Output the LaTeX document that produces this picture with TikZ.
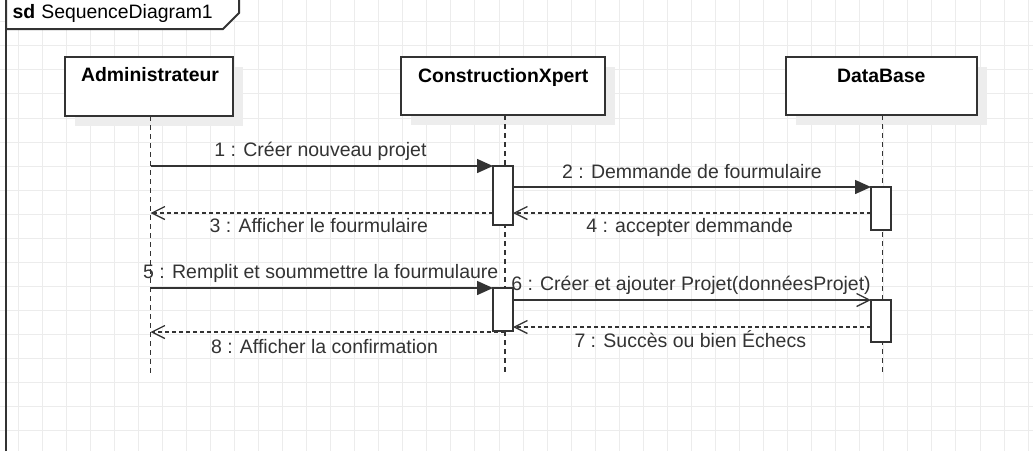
\documentclass[tikz,border=0pt]{standalone}
\usepackage{fontspec}
\setmainfont{Liberation Sans}
\usetikzlibrary{arrows.meta}
\definecolor{ln}{HTML}{333333}
\definecolor{gridc}{HTML}{ECECEC}
\definecolor{shadowc}{HTML}{EDEDED}
\tikzset{
  gridline/.style={draw=gridc, line width=1pt},
  framel/.style={draw=ln, line width=2pt},
  lifebox/.style={draw=ln, fill=white, line width=1.8pt, minimum width=#1, minimum height=58pt, inner sep=0pt, outer sep=0pt},
  shadowbox/.style={fill=shadowc, draw=none},
  boxtitle/.style={anchor=base, inner sep=0pt, font=\fontsize{19.4}{23}\selectfont\bfseries, text=black},
  lifeline/.style={draw=ln, line width=1.4pt, dash pattern=on 5pt off 4pt},
  activation/.style={draw=ln, fill=white, line width=1.6pt, minimum width=20pt, minimum height=#1, inner sep=0pt, outer sep=0pt},
  call/.style={draw=ln, line width=1.5pt, -{Triangle[length=16pt,width=14pt]}},
  async/.style={draw=ln, line width=1.5pt, -{Straight Barb[length=13pt,width=13pt,line width=1.3pt]}},
  reply/.style={draw=ln, line width=1.3pt, dash pattern=on 4pt off 3pt, -{Straight Barb[length=13pt,width=13pt,line width=1.3pt]}},
  msg/.style={anchor=base, inner sep=0pt, font=\fontsize{19.5}{23}\selectfont, text=ln},
}
\begin{document}
\begin{tikzpicture}[x=1pt,y=-1pt]
\useasboundingbox (0,0) rectangle (1033,451);
\fill[white] (0,0) rectangle (1033,451);
% grid
\foreach \k in {0,...,42} \draw[gridline] ({18+24.05*\k},0) -- ({18+24.05*\k},451);
\foreach \k in {0,...,17} \draw[gridline] (0,{21.9+24.03*\k}) -- (1033,{21.9+24.03*\k});
% frame
\draw[framel] (6,451) -- (6,-2);
\draw[framel, fill=white] (6,-2) -- (239,-2) -- (239,13) -- (223,29) -- (6,29) -- cycle;
\node[anchor=base west, inner sep=0pt, font=\fontsize{19.4}{23}\selectfont, text=black] (title) at (12.5,18.5) {\textbf{sd}\hspace{6pt}SequenceDiagram1};
% shadows
\fill[shadowbox] (75,67) rectangle (243,126);
\fill[shadowbox] (411,67) rectangle (615,125);
\fill[shadowbox] (796,67) rectangle (987,125);
% lifeline heads
\node[lifebox=168pt, minimum height=59pt, anchor=north west] (admin) at (65,57) {};
\node[lifebox=204pt, anchor=north west] (cx) at (401,57) {};
\node[lifebox=191pt, anchor=north west] (db) at (786,57) {};
\node[boxtitle] (admint) at (150,81.7) {Administrateur};
\node[boxtitle] (cxt) at (503.3,82.3) {ConstructionXpert};
\node[boxtitle] (dbt) at (881.3,82.3) {DataBase};
% lifelines
\coordinate (aend) at (150.5,375);
\coordinate (cend) at (505,375);
\coordinate (dend) at (882.5,375);
\draw[lifeline] (admin.south -| aend) -- (aend);
\draw[lifeline] (cx.south -| cend) -- (cend);
\draw[lifeline] (db.south -| dend) -- (dend);
% activations
\node[activation=59pt] (c1) at (503,195.5) {};
\node[activation=43pt] (d1) at (881,208.5) {};
\node[activation=43pt] (c2) at (503,309.5) {};
\node[activation=42pt] (d2) at (881,321) {};
% message points on lifelines
\coordinate (a1) at (150.5,166);
\coordinate (a3) at (150.5,213);
\coordinate (a5) at (150.5,288);
\coordinate (a8) at (150.5,332);
\coordinate (c8) at (505,332);
\coordinate (y7) at (0,327);
% messages
\draw[call] (a1) -- (c1.north west);
\draw[call] (c1.east |- d1.north) -- (d1.north west);
\draw[reply] (c1.west |- a3) -- (a3);
\draw[reply] (d1.west |- a3) -- (c1.east |- a3);
\draw[call] (a5) -- (c2.north west);
\draw[async] (c2.east |- d2.north) -- (d2.north west);
\draw[reply] (d2.west |- y7) -- (c2.east |- y7);
\draw[reply] (c8) -- (a8);
% labels
\node[msg] (l1) at (320.5,156.7) {1 : Créer nouveau projet};
\node[msg] (l2) at (692,178.3) {2 : Demmande de fourmulaire};
\node[msg] (l3) at (318.8,232.3) {3 : Afficher le fourmulaire};
\node[msg] (l4) at (689.6,232.7) {4 : accepter demmande};
\node[msg] (l5) at (320.8,278.3) {5 : Remplit et soummettre la fourmulaure};
\node[msg] (l6) at (691,290.7) {6 : Créer et ajouter Projet(donnéesProjet)};
\node[msg] (l7) at (690.3,347.3) {7 : Succès ou bien Échecs};
\node[msg] (l8) at (324.5,353.3) {8 : Afficher la confirmation};
\end{tikzpicture}
\end{document}
